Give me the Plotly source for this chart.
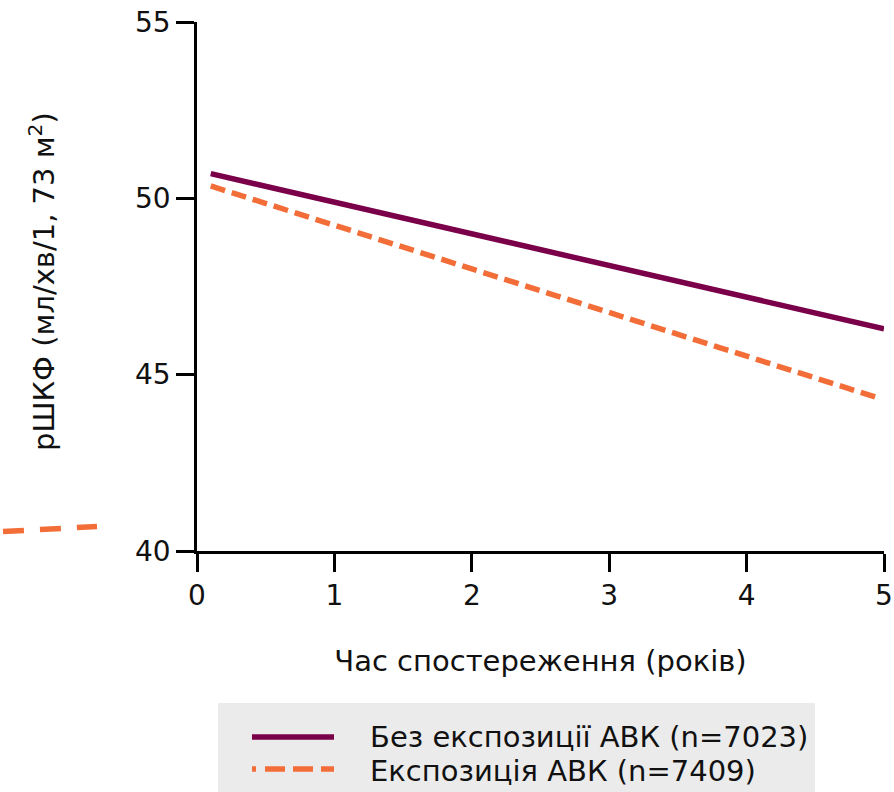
import plotly.graph_objects as go

# Modelled eGFR trajectories over follow-up
years_no_exposure = [0.1, 5.0]
egfr_no_exposure = [50.70, 46.30]
years_exposure = [0.1, 4.95]
egfr_exposure = [50.35, 44.35]

series_names = ["Без експозиції АВК (n=7023)", "Експозиція АВК (n=7409)"]
x_ticks = [0, 1, 2, 3, 4, 5]
y_ticks = [40, 45, 50, 55]

PURPLE = "#7A0049"
ORANGE = "#F36D38"
FONT = "DejaVu Sans"
W, H = 894, 792
ML, MR, MT, MB = 197, 10, 22, 241


def px_x(x):
    return (x - ML) / (W - ML - MR)


def px_y(y):
    return (H - MB - y) / (H - MT - MB)


fig = go.Figure()
fig.add_trace(go.Scatter(x=years_no_exposure, y=egfr_no_exposure, mode="lines",
                         line=dict(color=PURPLE, width=5.5), name=series_names[0],
                         showlegend=False, cliponaxis=False))
fig.add_trace(go.Scatter(x=years_exposure, y=egfr_exposure, mode="lines",
                         line=dict(color=ORANGE, width=5.5, dash="15px,7px"),
                         name=series_names[1], showlegend=False, cliponaxis=False))

shapes = []
annotations = []

# legend panel
shapes.append(dict(type="rect", xref="paper", yref="paper",
                   x0=px_x(218), x1=px_x(815), y0=px_y(703), y1=px_y(792),
                   fillcolor="#EBEBEB", line=dict(width=0), layer="below"))
shapes.append(dict(type="line", xref="paper", yref="paper",
                   x0=px_x(252), x1=px_x(334), y0=px_y(737), y1=px_y(737),
                   line=dict(color=PURPLE, width=5.5)))
shapes.append(dict(type="line", xref="paper", yref="paper",
                   x0=px_x(252), x1=px_x(334), y0=px_y(769), y1=px_y(769),
                   line=dict(color=ORANGE, width=5.5, dash="4px,9px,20px,8px,20px,8px,20px")))
for name, yy in zip(series_names, [737, 771]):
    annotations.append(dict(text=name, xref="paper", yref="paper",
                            x=px_x(368), y=px_y(yy), xanchor="left", yanchor="middle",
                            showarrow=False, font=dict(family=FONT, size=29, color="#111111")))

# short dashed stroke at the left edge
shapes.append(dict(type="line", xref="paper", yref="paper",
                   x0=px_x(3), x1=px_x(97), y0=px_y(531.5), y1=px_y(526.5),
                   line=dict(color=ORANGE, width=5.5, dash="21px,16px")))

# y-axis title
annotations.append(dict(text="рШКФ (мл/хв/1, 73 м<sup>2</sup>)", xref="paper", yref="paper",
                        x=px_x(42), y=px_y(282), xanchor="center", yanchor="middle",
                        textangle=-90, showarrow=False,
                        font=dict(family=FONT, size=29, color="#111111")))

fig.update_layout(
    width=W, height=H,
    margin=dict(l=ML, r=MR, t=MT, b=MB, autoexpand=False),
    paper_bgcolor="white", plot_bgcolor="white",
    font=dict(family=FONT, color="#111111"),
    shapes=shapes, annotations=annotations,
    showlegend=False,
)
fig.update_xaxes(range=[0, 5], tickvals=x_ticks, ticks="outside", ticklen=18, tickwidth=2.5,
                 tickcolor="black", showline=True, linecolor="black", linewidth=2.5,
                 showgrid=False, zeroline=False, automargin=False,
                 tickfont=dict(size=28, family=FONT),
                 title=dict(text="Час спостереження (років)", font=dict(size=29, family=FONT),
                            standoff=40))
fig.update_yaxes(range=[40, 55], tickvals=y_ticks, ticks="outside", ticklen=18, tickwidth=2.5,
                 tickcolor="black", showline=True, linecolor="black", linewidth=2.5,
                 showgrid=False, zeroline=False, automargin=False,
                 tickfont=dict(size=28, family=FONT))

fig.write_html("out.html")
